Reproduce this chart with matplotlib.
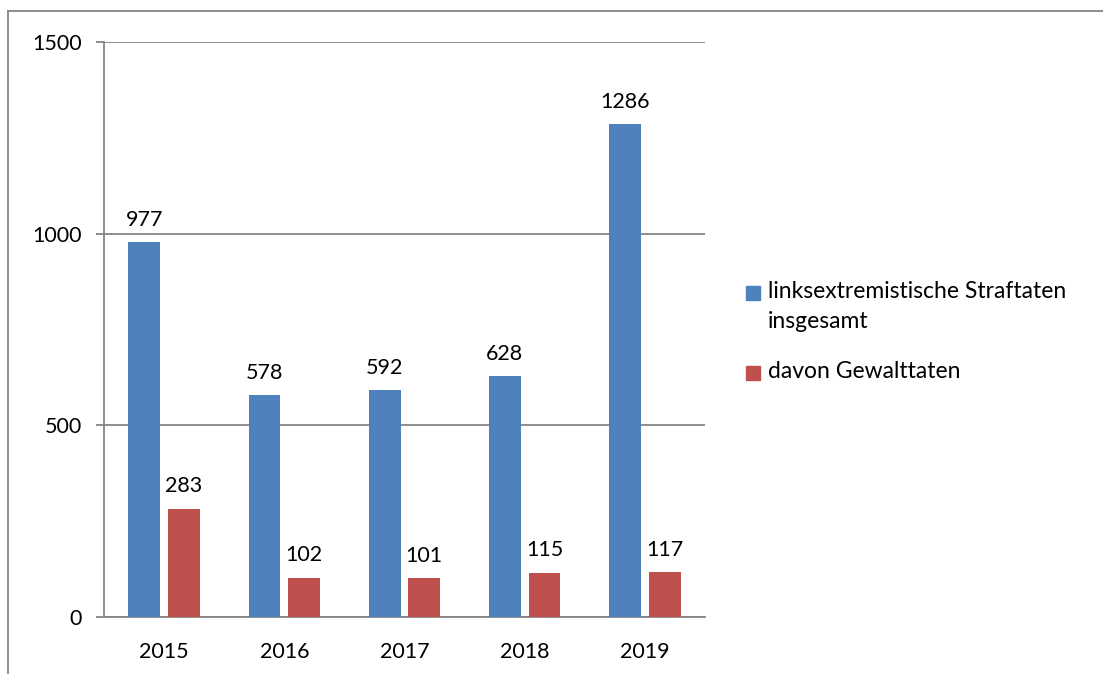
import matplotlib.pyplot as plt
from matplotlib.lines import Line2D
from matplotlib.patches import Rectangle
import numpy as np

years = ['2015', '2016', '2017', '2018', '2019']
total = [977, 578, 592, 628, 1286]
violent = [283, 102, 101, 115, 117]
labels = ['linksextremistische Straftaten\ninsgesamt', 'davon Gewalttaten']

blue = '#4F81BD'
red = '#C0504D'
grid = '#868686'

plt.rcParams['font.family'] = ['Lato', 'DejaVu Sans']

W, H = 1103, 674
fig = plt.figure(figsize=(W / 100, H / 100), dpi=100)
ax = fig.add_axes([104 / W, 1 - 617 / H, (705 - 104) / W, (617 - 42) / H])

x = np.arange(len(years))
bw = 0.265
off = 0.165
b1 = ax.bar(x - off, total, bw, color=blue, zorder=3)
b2 = ax.bar(x + off, violent, bw, color=red, zorder=3)

for bars, vals in [(b1, total), (b2, violent)]:
    for b, v in zip(bars, vals):
        ax.annotate(str(v), (b.get_x() + b.get_width() / 2, v),
                    xytext=(0, 9), textcoords='offset points',
                    ha='center', va='bottom', fontsize=15.5)

ax.set_xlim(-0.5, len(years) - 0.5)
ax.set_ylim(0, 1500)
ax.set_yticks([0, 500, 1000, 1500])
ax.set_xticks(x)
ax.set_xticklabels(years)
ax.yaxis.grid(True, color=grid, lw=1.3, zorder=0)
ax.tick_params(axis='y', length=6, width=1.3, color=grid, labelsize=15.5, pad=10)
ax.tick_params(axis='x', length=0, labelsize=15.5, pad=18)
for s in ['top', 'right']:
    ax.spines[s].set_visible(False)
for s in ['left', 'bottom']:
    ax.spines[s].set_color(grid)
    ax.spines[s].set_linewidth(1.3)

# legend drawn by hand so the key square sits on the first text line
for col, lab, yc in [(blue, labels[0], 293), (red, labels[1], 373)]:
    fig.add_artist(Rectangle((746 / W, 1 - (yc + 7) / H), 14 / W, 14 / H,
                             color=col, transform=fig.transFigure))
    fig.text(768 / W, 1 - (yc - 12) / H, lab, fontsize=16.5, va='top',
             ha='left', linespacing=1.5)

# outer chart border (top and left edges visible in the crop)
fig.add_artist(Line2D([8 / W, 1], [1 - 11 / H, 1 - 11 / H], color=grid, lw=1.3))
fig.add_artist(Line2D([8 / W, 8 / W], [0, 1 - 11 / H], color=grid, lw=1.3))

fig.savefig('out.png', dpi=100)
